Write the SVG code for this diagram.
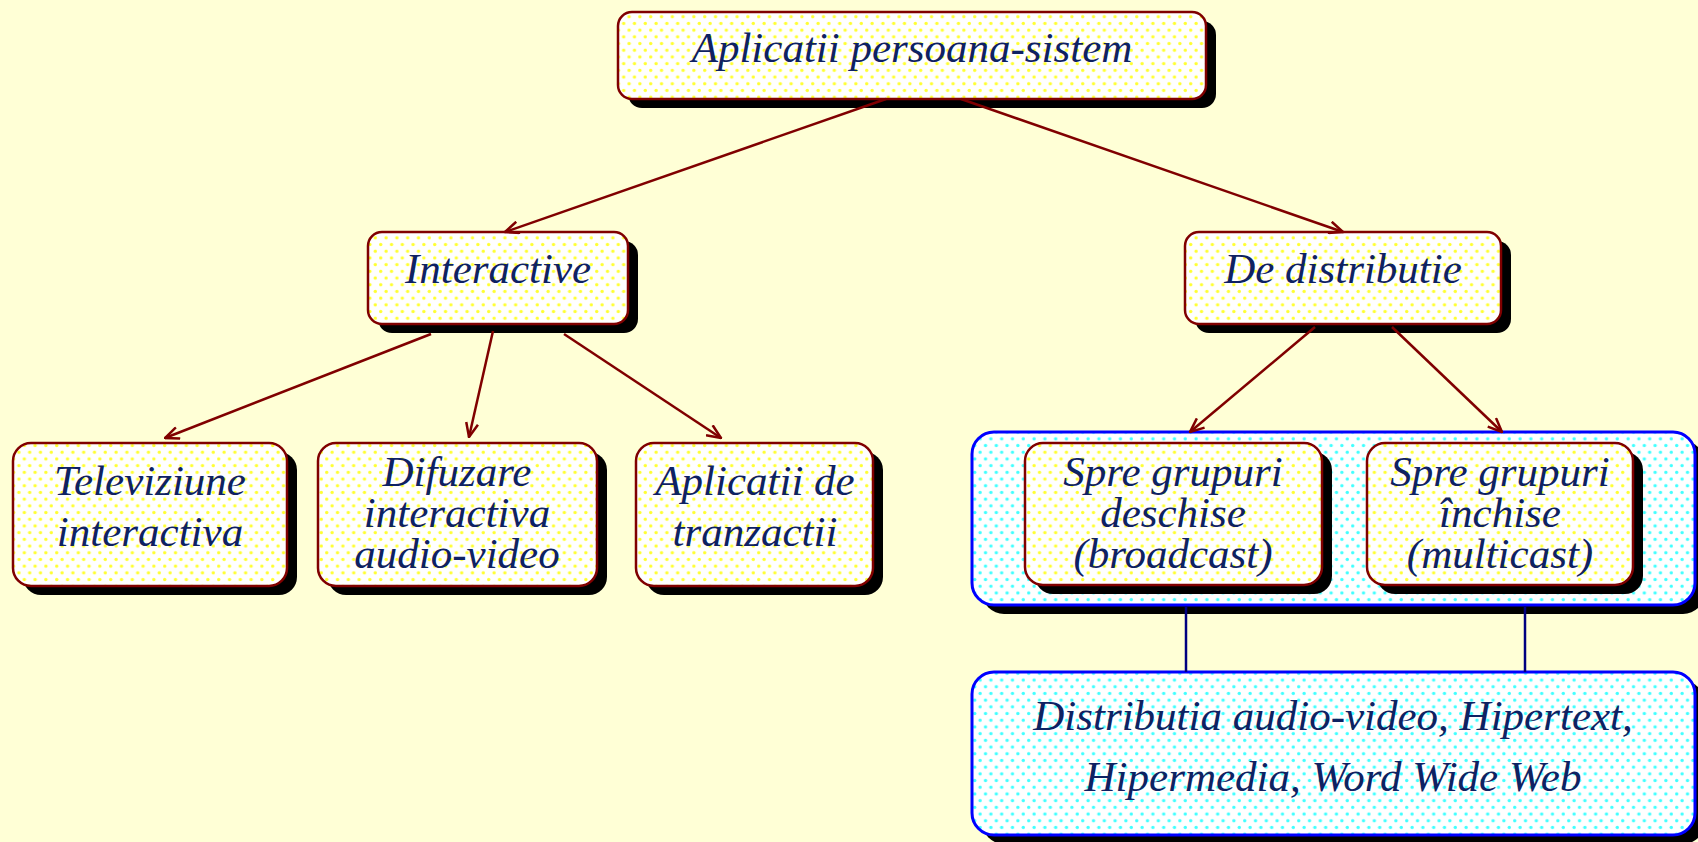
<svg xmlns="http://www.w3.org/2000/svg" width="1698" height="842" viewBox="0 0 1698 842">
<defs>
<pattern id="ydots" width="10.8" height="13.4" patternUnits="userSpaceOnUse">
<rect width="10.8" height="13.4" fill="#ffffff"/>
<circle cx="2.7" cy="3.35" r="1.7" fill="#ffff30"/>
<circle cx="8.1" cy="10.05" r="1.7" fill="#ffff30"/>
</pattern>
<pattern id="cdots" width="10.8" height="13.4" patternUnits="userSpaceOnUse">
<rect width="10.8" height="13.4" fill="#ffffff"/>
<circle cx="2.7" cy="3.35" r="1.7" fill="#40ffff"/>
<circle cx="8.1" cy="10.05" r="1.7" fill="#40ffff"/>
</pattern>
<marker id="arr" viewBox="0 0 16 14" refX="15" refY="7" markerWidth="16" markerHeight="14" markerUnits="userSpaceOnUse" orient="auto">
<path d="M1,1 L15,7 L1,13" fill="none" stroke="#800000" stroke-width="2.5"/>
</marker>
</defs>
<style>
.sh{fill:#000000}
.box{fill:url(#ydots);stroke:#800000;stroke-width:2.5}
.grp{fill:url(#cdots);stroke:#0000ff;stroke-width:3}
.t{font-family:"Liberation Serif","Times New Roman",serif;font-style:italic;font-size:43px;fill:#0e2262;text-anchor:middle}
.c{stroke:#800000;stroke-width:2.5;fill:none;marker-end:url(#arr)}
.b{stroke:#000080;stroke-width:2.5;fill:none}
</style>
<rect width="1698" height="842" fill="#ffffd6"/>

<g id="group-distributie">
<rect class="sh" x="982" y="441" width="723" height="173" rx="22"/>
<rect class="grp" x="972" y="432" width="723" height="173" rx="22"/>
</g>

<g id="node-aplicatii">
<rect class="sh" x="628" y="21" width="588" height="87" rx="14"/>
<rect class="box" x="618" y="12" width="588" height="87" rx="14"/>
<text class="t" x="912" y="62">Aplicatii persoana-sistem</text>
</g>

<g id="node-interactive">
<rect class="sh" x="378" y="241" width="260" height="92" rx="14"/>
<rect class="box" x="368" y="232" width="260" height="92" rx="14"/>
<text class="t" x="498" y="283">Interactive</text>
</g>

<g id="node-distributie">
<rect class="sh" x="1195" y="241" width="316" height="92" rx="14"/>
<rect class="box" x="1185" y="232" width="316" height="92" rx="14"/>
<text class="t" x="1343" y="283">De distributie</text>
</g>

<g id="node-televiziune">
<rect class="sh" x="23" y="452" width="274" height="143" rx="18"/>
<rect class="box" x="13" y="443" width="274" height="143" rx="18"/>
<text class="t" x="150" y="495">Televiziune</text>
<text class="t" x="150" y="546">interactiva</text>
</g>

<g id="node-difuzare">
<rect class="sh" x="328" y="452" width="279" height="143" rx="18"/>
<rect class="box" x="318" y="443" width="279" height="143" rx="18"/>
<text class="t" x="457" y="486">Difuzare</text>
<text class="t" x="457" y="527">interactiva</text>
<text class="t" x="457" y="568">audio-video</text>
</g>

<g id="node-tranzactii">
<rect class="sh" x="646" y="452" width="237" height="143" rx="18"/>
<rect class="box" x="636" y="443" width="237" height="143" rx="18"/>
<text class="t" x="755" y="495">Aplicatii de</text>
<text class="t" x="755" y="546">tranzactii</text>
</g>

<g id="node-deschise">
<rect class="sh" x="1035" y="452" width="297" height="142" rx="18"/>
<rect class="box" x="1025" y="443" width="297" height="142" rx="18"/>
<text class="t" x="1173" y="486">Spre grupuri</text>
<text class="t" x="1173" y="527">deschise</text>
<text class="t" x="1173" y="568">(broadcast)</text>
</g>

<g id="node-inchise">
<rect class="sh" x="1377" y="452" width="266" height="142" rx="18"/>
<rect class="box" x="1367" y="443" width="266" height="142" rx="18"/>
<text class="t" x="1500" y="486">Spre grupuri</text>
<text class="t" x="1500" y="527">închise</text>
<text class="t" x="1500" y="568">(multicast)</text>
</g>

<g id="node-www">
<rect class="sh" x="982" y="681" width="723" height="163" rx="22"/>
<rect class="grp" x="972" y="672" width="723" height="163" rx="22"/>
<text class="t" x="1333" y="730">Distributia audio-video, Hipertext,</text>
<text class="t" x="1333" y="791">Hipermedia, Word Wide Web</text>
</g>

<g id="connectors">
<line class="c" x1="886" y1="99" x2="505" y2="232"/>
<line class="c" x1="961" y1="99" x2="1343" y2="232"/>
<line class="c" x1="431" y1="334" x2="165" y2="438"/>
<line class="c" x1="493" y1="331" x2="469" y2="437"/>
<line class="c" x1="564" y1="334" x2="721" y2="438"/>
<line class="c" x1="1315" y1="327" x2="1190" y2="432"/>
<line class="c" x1="1392" y1="327" x2="1502" y2="432"/>
<line class="b" x1="1186" y1="606" x2="1186" y2="672"/>
<line class="b" x1="1525" y1="606" x2="1525" y2="672"/>
</g>
</svg>
